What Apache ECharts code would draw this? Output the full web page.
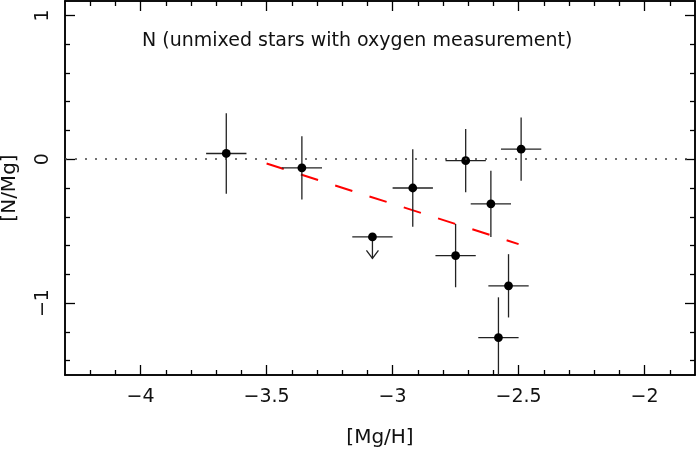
<!DOCTYPE html>
<html>
<head>
<meta charset="utf-8">
<script src="https://cdn.jsdelivr.net/npm/echarts@6/dist/echarts.min.js"></script>
<style>
  html, body { margin: 0; padding: 0; background: #fff; }
  #chart { width: 697px; height: 450px; }
</style>
</head>
<body>
<div id="chart"></div>
<script>
  // [Mg/H], [N/Mg] and their errors
  var mgH   = [-3.66, -3.36, -3.08, -2.92, -2.75, -2.71, -2.61, -2.58, -2.54, -2.49];
  var nMg   = [ 0.04, -0.06, -0.54, -0.20, -0.67, -0.01, -0.31, -1.24, -0.88,  0.07];
  var xErr  = [ 0.08,  0.08,  0.08,  0.08,  0.08,  0.08,  0.08,  0.08,  0.08,  0.08];
  var yErr  = [ 0.28,  0.22,  0.00,  0.27,  0.22,  0.22,  0.23,  0.28,  0.22,  0.22];
  var upper = [ 0,     0,     1,     0,     0,     0,     0,     0,     0,     0   ]; // 1 = upper limit

  // red dashed trend
  var fitX = [-3.5, -2.5];
  var fitY = [-0.03, -0.59];

  // ticks
  var xMajor = [-4, -3.5, -3, -2.5, -2];
  var xMinor = [-4.2, -4.1, -3.9, -3.8, -3.7, -3.6, -3.4, -3.3, -3.2, -3.1,
                -2.9, -2.8, -2.7, -2.6, -2.4, -2.3, -2.2, -2.1, -1.9];
  var yMajor = [-1, 0, 1];
  var yMinor = [-1.4, -1.2, -0.8, -0.6, -0.4, -0.2, 0.2, 0.4, 0.6, 0.8];

  var FONT = 'DejaVu Sans';
  var INK = '#111';

  var points = [];
  for (var i = 0; i < mgH.length; i++) {
    points.push([mgH[i], nMg[i], xErr[i], yErr[i], upper[i]]);
  }

  function minus(v) {
    return String(v).replace('-', '\u2212');
  }

  function xAx(pos, ticks, len, withLabels) {
    return {
      type: 'value', position: pos, min: -4.3, max: -1.8,
      axisLine: { show: true, onZero: false, lineStyle: { color: '#000', width: 1.5 } },
      axisTick: { show: true, inside: true, length: len, customValues: ticks,
                  lineStyle: { color: '#000', width: 1.3 } },
      axisLabel: { show: withLabels, customValues: xMajor, margin: 13, formatter: minus,
                   fontFamily: FONT, fontSize: 19, color: INK },
      splitLine: { show: false }
    };
  }

  function yAx(pos, ticks, len, withLabels) {
    return {
      type: 'value', position: pos, min: -1.5, max: 1.1,
      axisLine: { show: true, onZero: false, lineStyle: { color: '#000', width: 1.5 } },
      axisTick: { show: true, inside: true, length: len, customValues: ticks,
                  lineStyle: { color: '#000', width: 1.3 } },
      axisLabel: { show: withLabels, customValues: yMajor, rotate: 90, margin: 12, formatter: minus,
                   fontFamily: FONT, fontSize: 19, color: INK },
      splitLine: { show: false }
    };
  }

  var xMain = xAx('bottom', xMajor, 10, true);
  xMain.name = '[Mg/H]';
  xMain.nameLocation = 'middle';
  xMain.nameGap = 53;
  xMain.nameTextStyle = { fontFamily: FONT, fontSize: 20, color: INK };

  var yMain = yAx('left', yMajor, 10, true);
  yMain.name = '[N/Mg]';
  yMain.nameLocation = 'middle';
  yMain.nameGap = 45;
  yMain.nameTextStyle = { fontFamily: FONT, fontSize: 20, color: INK };

  var chart = echarts.init(document.getElementById('chart'));

  var option = {
    animation: false,
    backgroundColor: '#fff',
    title: {
      text: 'N (unmixed stars with oxygen measurement)',
      left: 137, top: 27,
      textStyle: { fontFamily: FONT, fontSize: 19, fontWeight: 'normal', color: INK }
    },
    grid: { left: 65, right: 2, top: 1, bottom: 75, containLabel: false, outerBoundsMode: 'none' },
    xAxis: [
      xMain,
      xAx('bottom', xMinor, 5, false),
      xAx('top', xMajor, 10, false),
      xAx('top', xMinor, 5, false)
    ],
    yAxis: [
      yMain,
      yAx('left', yMinor, 5, false),
      yAx('right', yMajor, 10, false),
      yAx('right', yMinor, 5, false)
    ],
    series: [
      {
        type: 'line',
        data: [[fitX[0], fitY[0]], [fitX[1], fitY[1]]],
        showSymbol: false,
        silent: true,
        lineStyle: { color: '#ff0000', width: 2, type: [18, 18] },
        markLine: {
          silent: true,
          symbol: 'none',
          label: { show: false },
          lineStyle: { color: '#444', width: 1.6, type: [2, 8] },
          data: [{ yAxis: 0 }]
        },
        z: 2
      },
      {
        type: 'custom',
        clip: true,
        data: points,
        z: 3,
        renderItem: function (params, api) {
          var x = api.value(0), y = api.value(1);
          var ex = api.value(2), ey = api.value(3), lim = api.value(4);
          var st = { stroke: '#222', lineWidth: 1.3 };
          var c = api.coord([x, y]);
          var l = api.coord([x - ex, y]);
          var r = api.coord([x + ex, y]);
          var kids = [
            { type: 'line', shape: { x1: l[0], y1: l[1], x2: r[0], y2: r[1] }, style: st }
          ];
          if (lim) {
            var b = api.coord([x, y - 0.15]);
            kids.push({ type: 'line', shape: { x1: c[0], y1: c[1], x2: b[0], y2: b[1] }, style: st });
            kids.push({ type: 'polyline',
                        shape: { points: [[b[0] - 6, b[1] - 8], [b[0], b[1]], [b[0] + 6, b[1] - 8]] },
                        style: { stroke: '#222', lineWidth: 1.3, fill: null } });
          } else {
            var t = api.coord([x, y + ey]);
            var d = api.coord([x, y - ey]);
            kids.push({ type: 'line', shape: { x1: t[0], y1: t[1], x2: d[0], y2: d[1] }, style: st });
          }
          kids.push({ type: 'circle', shape: { cx: c[0], cy: c[1], r: 4.4 }, style: { fill: '#000' } });
          return { type: 'group', children: kids };
        }
      }
    ]
  };

  chart.setOption(option);
</script>
</body>
</html>
